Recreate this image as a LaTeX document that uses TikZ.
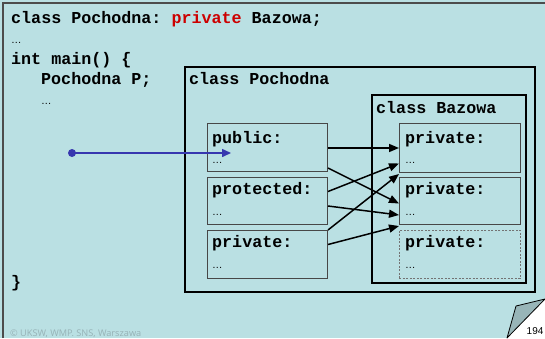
\documentclass[tikz,border=0pt]{standalone}
\usepackage{fontspec}
\setmainfont{Liberation Sans}
\setmonofont{Liberation Mono}
\newfontfamily\footfont{Open Sans}
\usetikzlibrary{arrows.meta,calc}
\definecolor{slidebg}{RGB}{186,224,227}
\definecolor{kwred}{RGB}{204,0,0}
\definecolor{ptrblue}{RGB}{55,55,175}
\definecolor{footgray}{RGB}{150,178,182}
\definecolor{flapgray}{RGB}{152,181,184}
\begin{document}
\begin{tikzpicture}[x=1pt,y=-1pt,
  code/.style={font=\fontsize{16.7}{18}\ttfamily\bfseries, anchor=base west, inner sep=0pt},
  dots/.style={font=\fontsize{10.5}{11}\selectfont, anchor=base west, inner sep=0pt},
  classbox/.style={draw=black, line width=2pt, anchor=north west, inner sep=0pt},
  part/.style={draw=black!72, line width=1pt, anchor=north west, inner sep=0pt, minimum width=120pt},
  ghost/.style={draw=black!55, line width=0.8pt, dash pattern=on 2pt off 1.5pt, anchor=north west, inner sep=0pt, minimum width=120pt},
  link/.style={line width=1.5pt, -{Triangle[length=10pt,width=8pt]}},
]
\useasboundingbox (0,0) rectangle (545,338);
\fill[slidebg] (0,0) rectangle (545,338);
\draw[black!70, line width=1.2pt] (3,338) -- (3,3) -- (545,3);

% code listing on the left
\node[code] (l1) at (11,23) {class Pochodna: \textcolor{kwred}{private} Bazowa;};
\node[dots] (l2) at (11,43) {…};
\node[code] (l3) at (11,64) {int main() \{};
\node[code] (l4) at (41,84) {Pochodna P;};
\node[dots] (l5) at (41,104) {…};
\node[code] (l6) at (11,287) {\}};

% derived class with its parts
\node[classbox, minimum width=350pt, minimum height=225pt] (poch) at (184,66) {};
\node[code] (pochlbl) at (189,84) {class Pochodna};
\node[part, minimum height=48pt] (pub) at (207,123) {};
\node[part, minimum height=47pt] (prot) at (207,177) {};
\node[part, minimum height=48pt] (priv) at (207,230) {};
\node[code] (publbl) at (212,143) {public:};
\node[dots] (pubdots) at (212,163) {…};
\node[code] (protlbl) at (212,194) {protected:};
\node[dots] (protdots) at (212,215) {…};
\node[code] (privlbl) at (212,247) {private:};
\node[dots] (privdots) at (212,268) {…};

% base class inside it
\node[classbox, minimum width=154pt, minimum height=188pt] (baz) at (371,94) {};
\node[code] (bazlbl) at (376,113) {class Bazowa};
\node[part, minimum width=121pt, minimum height=49pt] (bp1) at (399,123) {};
\node[part, minimum width=121pt, minimum height=47pt] (bp2) at (399,177) {};
\node[ghost, minimum width=121pt, minimum height=48pt] (bp3) at (399,230) {};
\node[code] (bp1lbl) at (405,143) {private:};
\node[dots] (bp1dots) at (405,163) {…};
\node[code] (bp2lbl) at (405,194) {private:};
\node[dots] (bp2dots) at (405,215) {…};
\node[code] (bp3lbl) at (405,247) {private:};
\node[dots] (bp3dots) at (405,268) {…};

% mapping of the derived sections onto the base sections
\draw[link] ($(pub.east)+(0,0.5)$) -- ($(bp1.west)+(0,0)$);
\draw[link] ($(pub.south east)+(0,-4)$) -- ($(bp2.west)+(0,2.5)$);
\draw[link] ($(prot.east)+(0,-9.5)$) -- ($(bp1.west)+(0,15.5)$);
\draw[link] ($(prot.east)+(0,5)$) -- ($(bp2.west)+(0,14)$);
\draw[link] ($(priv.north east)+(0,0)$) -- ($(bp1.south west)+(0,1)$);
\draw[link] ($(priv.east)+(0,-10)$) -- ($(bp2.south west)+(0,1)$);

% object P pointing into the public section
\node[circle, fill=ptrblue, minimum size=8pt, inner sep=0pt] (obj) at (72,153) {};
\coordinate (objtgt) at (231,153);
\draw[ptrblue, line width=1.5pt, -{Triangle[length=9pt,width=8pt]}] (obj.center) -- (objtgt);

% footer and page corner
\node[font=\footfont\fontsize{9.2}{10}\selectfont, text=footgray, anchor=base west, inner sep=0pt] (foot) at (10,336) {© UKSW, WMP. SNS, Warszawa};
\fill[white] (545,299) -- (545,338) -- (507,338) -- cycle;
\filldraw[fill=flapgray, draw=black, line width=0.8pt, line join=round] (507,338) -- (516,306) -- (545,299) -- cycle;
\node[font=\fontsize{10}{11}\selectfont, anchor=base west, inner sep=0pt] (pgnum) at (526.5,334) {194};
\end{tikzpicture}
\end{document}
